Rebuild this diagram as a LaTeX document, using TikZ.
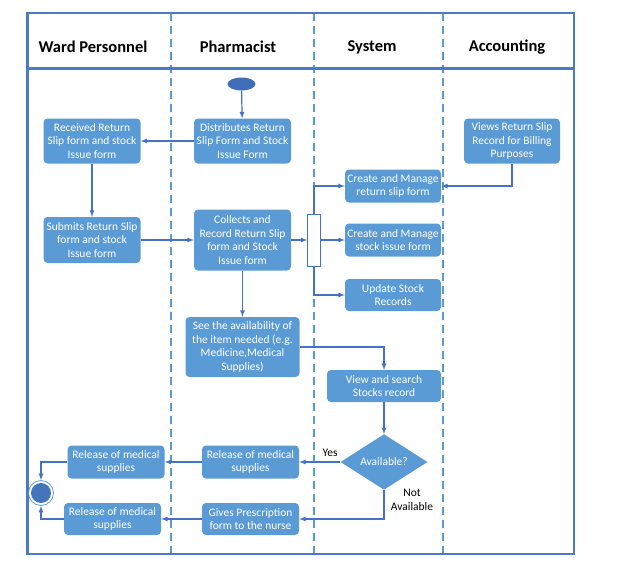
\documentclass[tikz,border=0pt]{standalone}
\usepackage{fontspec}
\setmainfont{Carlito}
\usetikzlibrary{arrows,shapes.geometric}
\definecolor{boxblue}{HTML}{5B9BD5}
\definecolor{lineblue}{HTML}{4472C4}
\definecolor{dotblue}{HTML}{3F6DB8}

\begin{document}
\begin{tikzpicture}[x=1pt,y=-1pt,
  act/.style={fill=boxblue,rounded corners=4pt,text=white,align=center,inner sep=1pt,
    font=\fontsize{11.5}{13.8}\selectfont},
  head/.style={font=\fontsize{16.5}{18}\selectfont\bfseries},
  flow/.style={draw=lineblue,line width=1.2pt,-latex},
  lane/.style={draw=boxblue,line width=1.4pt,dash pattern=on 8pt off 5pt},
  frame/.style={draw=lineblue!80!boxblue,line width=2.2pt}]
  \useasboundingbox (0,0) rectangle (621,587);
  \draw[lane] (171,13) -- (171,559);
  \draw[lane] (314,13) -- (314,559);
  \draw[lane] (443,13) -- (443,559);
  \draw[frame] (27.5,13) rectangle (574,554);
  \draw[frame,line width=3pt] (27.5,68) -- (574,68);
  \node[head] (hward) at (93,47) {Ward Personnel};
  \node[head] (hpharm) at (238,47) {Pharmacist};
  \node[head] (hsys) at (372,47) {System};
  \node[head] (hacc) at (507,47) {Accounting};

  \node[ellipse,fill=dotblue,minimum width=28pt,minimum height=13pt,inner sep=0] (start) at (241.5,84) {};
  \node[act,minimum width=97pt,minimum height=45pt] (recv) at (92,141) {Received Return\\Slip form and stock\\Issue form};
  \node[act,minimum width=97pt,minimum height=45pt] (distr) at (242.5,141) {Distributes Return\\Slip Form and Stock\\Issue Form};
  \node[act,minimum width=96pt,minimum height=45pt] (views) at (512,141) {Views Return Slip\\Record for Billing\\Purposes};
  \node[act,minimum width=96pt,minimum height=33pt] (slip) at (393,186) {Create and Manage\\return slip form};
  \node[act,minimum width=97pt,minimum height=46pt] (submit) at (92,240) {Submits Return Slip\\form and stock\\Issue form};
  \node[act,minimum width=97pt,minimum height=61pt] (collect) at (242.5,240) {Collects and\\Record Return Slip\\form and Stock\\Issue form};
  \node[draw=lineblue,fill=white,minimum width=13pt,minimum height=52pt,inner sep=0] (fork) at (314,240) {};
  \node[act,minimum width=96pt,minimum height=33pt] (issue) at (393,240) {Create and Manage\\stock issue form};
  \node[act,minimum width=96pt,minimum height=32pt] (update) at (393,295) {Update Stock\\Records};
  \node[act,minimum width=114pt,minimum height=60pt] (avail) at (242.5,347) {See the availability of\\the item needed (e.g.\\Medicine,Medical\\Supplies)};
  \node[act,minimum width=114pt,minimum height=32pt] (search) at (384,386) {View and search\\Stocks record};
  \node[diamond,fill=boxblue,text=white,minimum width=87pt,minimum height=51pt,inner sep=0,
    font=\fontsize{11.5}{13.8}\selectfont] (check) at (384,462) {Available?};
  \node[act,minimum width=97pt,minimum height=33pt] (relp) at (250.5,462) {Release of medical\\supplies};
  \node[act,minimum width=97pt,minimum height=33pt] (relw) at (116,462) {Release of medical\\supplies};
  \node[act,minimum width=97pt,minimum height=32pt] (gives) at (250.5,519) {Gives Prescription\\form to the nurse};
  \node[act,minimum width=97pt,minimum height=32pt] (relw2) at (112.5,519) {Release of medical\\supplies};
  \node[circle,draw=boxblue,line width=0.8pt,minimum size=25pt,inner sep=0] (end) at (41,493) {};
  \fill[dotblue!85!boxblue] (end.center) circle (10pt);

  \draw[flow] (start) -- (distr);
  \draw[flow] (distr) -- (recv);
  \draw[flow] (recv) -- (submit);
  \draw[flow] (submit) -- (collect);
  \draw[flow] (collect) -- (fork);
  \draw[flow] (fork.north) |- (slip);
  \draw[flow] (fork) -- (issue);
  \draw[flow] (fork.south) |- (update);
  \draw[flow] (views) |- (slip);
  \draw[flow] (collect) -- (avail);
  \draw[flow] (avail.east) -| (search);
  \draw[flow] (search) -- (check);
  \draw[flow] (check) -- node[pos=0.25,above=1pt,font=\fontsize{11.5}{13}\selectfont] (yes) {Yes} (relp);
  \draw[flow] (relp) -- (relw);
  \draw[flow] (relw.west) -| (end);
  \draw[flow] (check.south) |- (gives);
  \node[align=center,font=\fontsize{11.5}{13.8}\selectfont] (notav) at (412,500) {Not\\Available};
  \draw[flow] (gives) -- (relw2);
  \draw[flow] (relw2.west) -| (end);
\end{tikzpicture}
\end{document}
